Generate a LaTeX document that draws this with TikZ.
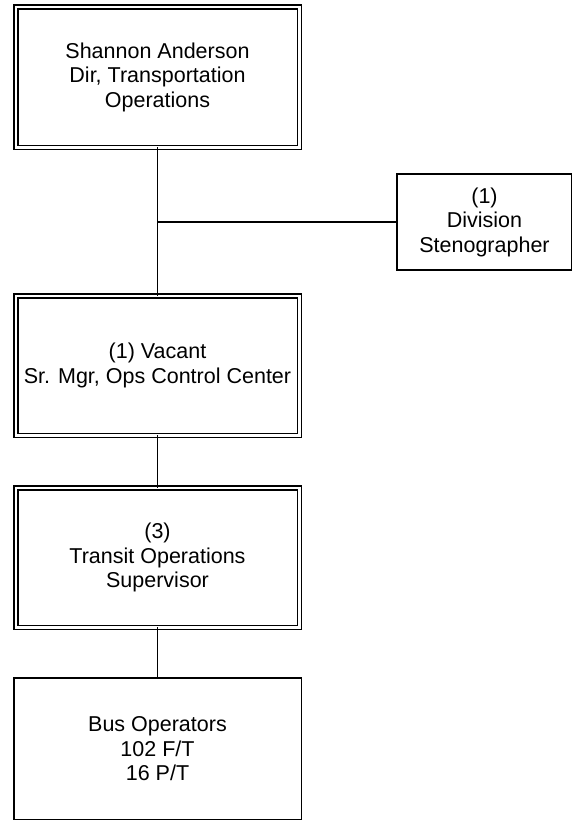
\documentclass[tikz,border=0pt]{standalone}
\usepackage{fontspec}
\setmainfont{Liberation Sans}
\usepackage{tikz}
\usetikzlibrary{positioning}

\begin{document}
\begin{tikzpicture}[x=1pt,y=-1pt,every node/.style={font=\fontsize{21.5}{24.5}\selectfont,align=center,inner sep=0pt,outer sep=0pt}]
    \useasboundingbox (0,0) rectangle (571,820);
    \node[draw,line width=1.5pt,double,double distance=2.5pt,minimum width=283.5pt,minimum height=140.5pt] (dir) at (157.5,77) {Shannon Anderson\\Dir, Transportation\\Operations};
    \node[draw,line width=1.5pt,double,double distance=2.5pt,minimum width=283.5pt,minimum height=139.5pt,below=148.5pt of dir] (occ) {(1) Vacant\\Sr. Mgr, Ops Control Center};
    \node[draw,line width=1.5pt,double,double distance=2.5pt,minimum width=283.5pt,minimum height=139.5pt,below=52.5pt of occ] (sup) {(3)\\Transit Operations\\Supervisor};
    \node[draw,line width=1.5pt,minimum width=287.5pt,minimum height=141.75pt,below=50.5pt of sup] (bus) {Bus Operators\\102 F/T\\16 P/T};
    \node[draw,line width=1.5pt,minimum width=175pt,minimum height=96pt] (steno) at (484.5,222) {(1)\\Division\\Stenographer};
    \coordinate (branch) at (dir.south |- steno.west);
    \draw[line width=1.7pt] (dir) -- (occ);
    \draw[line width=1.7pt] (branch) -- (steno.west);
    \draw[line width=1.7pt] (occ) -- (sup);
    \draw[line width=1.7pt] (sup) -- (bus);
\end{tikzpicture}
\end{document}
